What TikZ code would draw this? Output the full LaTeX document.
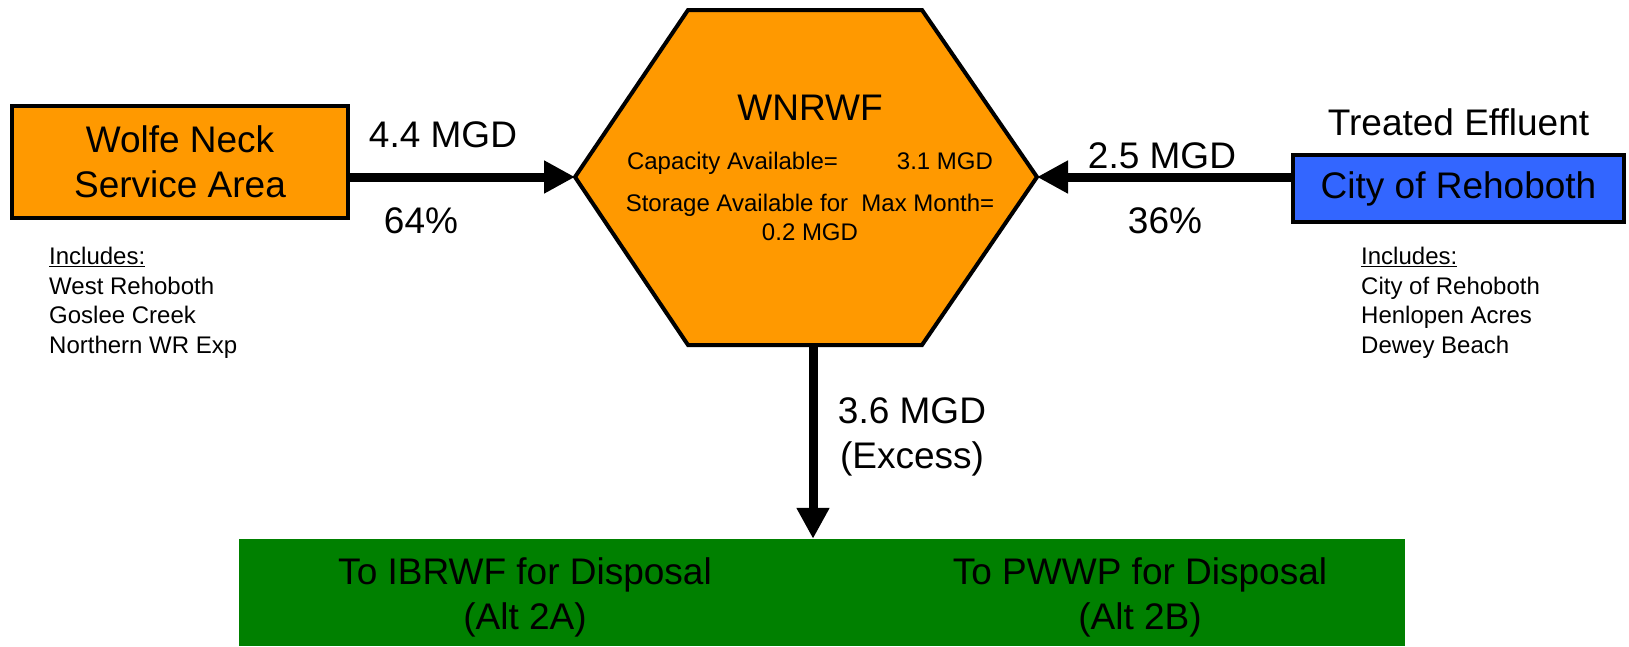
\documentclass[tikz,border=0pt]{standalone}
\usepackage{fontspec}
\setmainfont{Liberation Sans}
\usetikzlibrary{positioning,arrows.meta}
\definecolor{plantorange}{HTML}{FF9900}
\definecolor{cityblue}{HTML}{3366FF}
\definecolor{disposalgreen}{HTML}{008000}

\begin{document}
\begin{tikzpicture}[x=1pt,y=-1pt,
  big/.style={font=\fontsize{37}{45}\selectfont,align=center,inner sep=0pt},
  small/.style={font=\fontsize{24}{29.5}\selectfont,align=left,inner sep=0pt},
  area/.style={rectangle,draw,line width=4pt,font=\fontsize{37}{45}\selectfont,align=center},
  flow/.style={line width=9pt,-{Triangle[length=31pt,width=31pt]}}]
  \useasboundingbox (0,0) rectangle (1629,646);

  \node[area,fill=plantorange,minimum width=336pt,minimum height=112pt] (wolfe) at (180,162) {Wolfe Neck\\Service Area};
  \node[area,fill=cityblue,minimum width=331pt,minimum height=67pt] (rehoboth) at (1458.5,188.5) {City of Rehoboth};
  \node[big,above=17pt of rehoboth] (effluent) {Treated Effluent};

  \coordinate (hexW) at (575,177);
  \coordinate (hexE) at (1037,177);
  \coordinate (hexS) at (813,345);
  \draw[line width=4pt,fill=plantorange] (hexW) -- (688,10) -- (922,10) -- (hexE) -- (922,345) -- (688,345) -- cycle;
  \node[big] (plant) at (810,108) {WNRWF};
  \node[small,align=center,anchor=north] (capacity) at (810,152)
    {\makebox[366pt]{Capacity Available=\hfill 3.1 MGD}\\[12pt]
     Storage Available for\ \ Max Month=\\
     0.2 MGD};

  \node[fill=disposalgreen,minimum width=1166pt,minimum height=107pt,inner sep=0pt] (disposal) at (822,592.5) {};
  \node[big] (alt2a) at (525,597) {To IBRWF for Disposal\\(Alt 2A)};
  \node[big] (alt2b) at (1140,597) {To PWWP for Disposal\\(Alt 2B)};

  \draw[flow] (wolfe.east |- hexW) -- (hexW);
  \draw[flow] (rehoboth.west |- hexE) -- (hexE);
  \draw[flow] (hexS) -- (hexS |- disposal.north);

  \node[big] (wolfeflow) at (443,135) {4.4 MGD};
  \node[big] (wolfeshare) at (421,221) {64\%};
  \node[big] (cityflow) at (1162,156) {2.5 MGD};
  \node[big] (cityshare) at (1165,221) {36\%};
  \node[big] (excess) at (912,437) {3.6 MGD\\(Excess)};

  \node[small,anchor=north west] (wolfelist) at (49,247)
    {\underline{Includes:}\\West Rehoboth\\Goslee Creek\\Northern WR Exp};
  \node[small,anchor=north west] (citylist) at (1361,247)
    {\underline{Includes:}\\City of Rehoboth\\Henlopen Acres\\Dewey Beach};
\end{tikzpicture}
\end{document}
